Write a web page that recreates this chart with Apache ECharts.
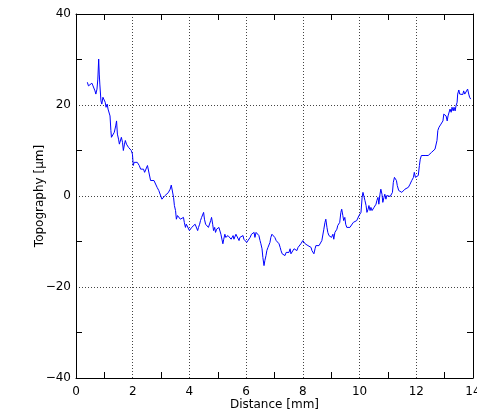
<!DOCTYPE html>
<html>
<head>
<meta charset="utf-8">
<script src="https://cdn.jsdelivr.net/npm/echarts@6/dist/echarts.min.js"></script>
<style>
    html, body { margin: 0; padding: 0; background: #fff; }
    #chart { width: 477px; height: 416px; }
</style>
</head>
<body>
<div id="chart"></div>
<script>
/* surface profile: topography vs distance */

var distance = [
    0.40, 0.44, 0.48, 0.51, 0.56, 0.60, 0.63, 0.67, 0.70, 0.74, 0.77, 0.80, 0.82, 0.84, 0.88, 0.91, 0.95, 0.98,
    1.03, 1.06, 1.10, 1.13, 1.17, 1.20, 1.23, 1.25, 1.28, 1.32, 1.35, 1.40, 1.43, 1.46, 1.50, 1.53, 1.57, 1.60,
    1.64, 1.67, 1.71, 1.74, 1.78, 1.81, 1.85, 1.88, 1.92, 1.95, 1.99, 2.02, 2.05, 2.08, 2.12, 2.16, 2.20, 2.23,
    2.28, 2.31, 2.35, 2.38, 2.42, 2.45, 2.49, 2.52, 2.56, 2.59, 2.63, 2.69, 2.75, 2.81, 2.86, 2.92,
    3.03, 3.08, 3.14, 3.20, 3.25, 3.28, 3.32, 3.36, 3.40, 3.44, 3.47, 3.51, 3.54, 3.58, 3.61, 3.65, 3.68, 3.72,
    3.75, 3.79, 3.82, 3.86, 3.89, 3.93, 3.96, 4.00, 4.03, 4.08, 4.14, 4.20, 4.25, 4.29, 4.32, 4.36, 4.39, 4.43,
    4.46, 4.50, 4.53, 4.57, 4.60, 4.64, 4.67, 4.71, 4.75, 4.78, 4.82, 4.85, 4.89, 4.92, 4.96, 4.99, 5.04, 5.07,
    5.11, 5.14, 5.18, 5.21, 5.25, 5.28, 5.32, 5.36, 5.40, 5.43, 5.47, 5.50, 5.54, 5.57, 5.61, 5.64, 5.68, 5.71,
    5.75, 5.78, 5.82, 5.85, 5.89, 5.92,
    5.96, 6.02, 6.08, 6.14, 6.19, 6.24, 6.28, 6.31, 6.35, 6.38, 6.42, 6.45, 6.49, 6.52, 6.56, 6.59, 6.63, 6.66,
    6.70, 6.73, 6.77, 6.80, 6.84, 6.87, 6.91, 6.94, 6.98, 7.01, 7.06, 7.09, 7.13, 7.16, 7.20, 7.23, 7.27, 7.30,
    7.34, 7.37, 7.41, 7.44, 7.48, 7.51, 7.55, 7.58, 7.62, 7.65, 7.69, 7.72, 7.76, 7.79, 7.83, 7.86, 7.90, 7.93,
    7.97, 8.00, 8.04, 8.08, 8.11, 8.15, 8.18, 8.22, 8.25, 8.29, 8.32, 8.36, 8.39, 8.43, 8.46, 8.50, 8.53, 8.57,
    8.60, 8.64, 8.67, 8.71, 8.74, 8.78, 8.81, 8.85, 8.88, 8.92,
    8.95, 9.01, 9.06, 9.09, 9.13, 9.16, 9.20, 9.23, 9.27, 9.30, 9.34, 9.37, 9.41, 9.44, 9.48, 9.51, 9.55, 9.61,
    9.66, 9.72, 9.78, 9.84, 9.90, 9.94, 9.98, 10.01, 10.05, 10.09, 10.12, 10.16, 10.19, 10.23, 10.26, 10.30,
    10.33, 10.37, 10.40, 10.44, 10.47, 10.51, 10.54, 10.58, 10.61, 10.65, 10.68, 10.72, 10.75, 10.79, 10.82,
    10.86, 10.89, 10.93, 10.96, 11.02, 11.08, 11.12, 11.16, 11.19, 11.23, 11.26, 11.30, 11.33, 11.38, 11.43,
    11.49, 11.55, 11.60, 11.66, 11.72,
    11.78, 11.84, 11.90, 11.93, 11.97, 12.00, 12.04, 12.07, 12.11, 12.14, 12.18, 12.21, 12.25, 12.31, 12.36,
    12.42, 12.48, 12.54, 12.60, 12.66, 12.69, 12.73, 12.76, 12.80, 12.83, 12.87, 12.90, 12.94, 12.97, 13.01,
    13.05, 13.09, 13.12, 13.16, 13.19, 13.23, 13.26, 13.30, 13.33, 13.37, 13.40, 13.44, 13.46, 13.50, 13.53,
    13.57, 13.60, 13.64, 13.67, 13.71, 13.74, 13.78, 13.81, 13.85, 13.88, 13.92
];

var topography = [
    25.0, 24.2, 24.5, 23.9, 24.8, 24.2, 24.6, 23.1, 22.4, 23.5, 25.7, 30.1, 26.8, 24.6, 20.9, 20.2, 21.7, 22.0,
    20.6, 19.5, 20.2, 19.1, 19.5, 17.6, 14.4, 12.9, 13.3, 12.9, 14.0, 15.4, 16.5, 13.6, 12.5, 11.4, 11.1, 12.9,
    11.8, 10.0, 11.4, 12.2, 11.4, 11.8, 10.7, 11.1, 10.7, 10.0, 9.2, 6.7, 7.4, 7.0, 7.6, 7.4, 7.0, 6.7,
    5.9, 6.3, 5.6, 5.9, 5.2, 5.6, 5.2, 6.7, 7.0, 6.3, 3.4, 3.0, 3.4, 3.0, 1.9, 1.2,
    -0.7, -0.3, 0.1, 0.4, 0.7, 0.8, 1.5, 2.4, 2.6, -0.3, -2.1, -3.2, -5.1, -4.3, -4.7, -4.0, -5.1, -4.7,
    -5.4, -4.7, -5.8, -6.9, -6.2, -5.8, -6.5, -7.6, -7.3, -6.9, -6.5, -6.2, -6.5, -7.6, -6.9, -6.2, -5.4, -4.7,
    -4.3, -3.6, -5.1, -6.2, -6.5, -5.8, -6.9, -6.5, -5.4, -4.7, -6.2, -7.6, -6.9, -8.0, -7.3, -7.6, -6.9, -7.3,
    -8.4, -8.7, -10.5, -9.5, -8.4, -9.1, -9.5, -8.7, -8.4, -8.7, -9.5, -9.1, -8.7, -9.5, -9.1, -8.4, -8.0, -8.7,
    -9.8, -9.1, -8.7, -9.1, -8.7, -9.5,
    -9.5, -10.2, -9.8, -9.1, -8.4, -8.7, -8.0, -9.1, -8.0, -7.6, -7.6, -8.7, -9.8, -10.5, -11.6, -13.5, -15.3, -14.2,
    -13.1, -12.0, -11.3, -10.9, -10.2, -9.1, -8.4, -8.0, -8.7, -9.1, -9.8, -9.5, -9.8, -10.5, -11.3, -12.0, -12.7, -12.4,
    -12.7, -13.1, -12.4, -12.7, -12.0, -12.4, -11.6, -12.7, -13.1, -12.4, -11.6, -12.0, -11.6, -12.0, -11.3, -10.9, -11.3, -10.5,
    -10.2, -9.8, -10.2, -10.5, -10.9, -10.5, -10.9, -11.3, -10.5, -11.3, -12.0, -12.4, -12.7, -11.6, -10.9, -11.3, -10.5, -10.9,
    -11.3, -10.5, -9.8, -9.5, -7.3, -5.8, -5.1, -6.9, -8.0, -8.7,
    -8.7, -9.1, -8.4, -9.5, -8.0, -7.6, -7.3, -6.5, -6.9, -5.8, -3.6, -2.9, -4.3, -5.4, -4.7, -6.2, -6.9, -6.9,
    -6.9, -6.5, -5.8, -5.4, -5.4, -5.1, -4.3, -4.0, -3.6, -0.3, 0.8, 0.4, -1.0, -2.1, -3.6, -2.9,
    -2.1, -3.2, -2.5, -3.2, -2.9, -2.5, -2.1, -1.8, -1.0, -0.3, -1.8, 0.4, 1.5, 0.4, -1.4,
    -0.3, 0.4, -0.7, 0.1, 0.1, -0.1, 0.1, 0.8, 3.0, 4.1, 4.5, 3.4, 2.3, 1.2, 0.8,
    0.8, 1.2, 1.5, 1.7, 1.9,
    2.6, 3.4, 4.1, 5.2, 4.1, 3.7, 3.7, 4.5, 6.7, 8.1, 8.9, 8.5, 8.9, 8.9, 8.5,
    8.9, 9.2, 9.6, 10.0, 10.3, 10.7, 12.2, 14.4, 15.1, 14.7, 15.8, 15.5, 16.5, 18.0, 18.4,
    17.6, 16.5, 17.6, 18.0, 19.1, 18.4, 19.5, 18.7, 19.5, 18.7, 19.8, 20.6, 22.4, 23.3, 22.4,
    22.0, 22.8, 22.3, 23.1, 22.4, 22.8, 22.3, 23.5, 22.4, 21.7, 21.3
];

var FONT = 'DejaVu Sans';

function fixMinus(v) {
    return String(v).replace('-', '\u2212');
}

function frameAxis(pos, isY) {
    // axis used only to close the box (top / right)
    return {
        type: 'value',
        position: pos,
        min: isY ? -40 : 0,
        max: isY ? 40 : 14,
        interval: isY ? 20 : 2,
        axisLine: { show: true, onZero: false, lineStyle: { color: '#000', width: 1 } },
        axisTick: { show: false, inside: true },
        minorTick: { show: true, splitNumber: 2, length: 6, lineStyle: { color: '#000' } },
        axisLabel: { show: false },
        splitLine: { show: false }
    };
}

var chart = echarts.init(document.getElementById('chart'));

var option = {
    animation: false,
    backgroundColor: '#fff',
    grid: {
        left: 76,
        right: 4,
        top: 14,
        bottom: 38,
        containLabel: false,
        outerBoundsMode: 'none'
    },
    xAxis: [{
        type: 'value',
        position: 'bottom',
        min: 0,
        max: 14,
        interval: 2,
        name: 'Distance [mm]',
        nameLocation: 'middle',
        nameGap: 21,
        nameMoveOverlap: false,
        nameTextStyle: { color: '#000', fontFamily: FONT, fontSize: 12 },
        axisLine: { show: true, onZero: false, lineStyle: { color: '#000', width: 1 } },
        axisTick: { show: false, inside: true },
        minorTick: { show: true, splitNumber: 2, length: 6, lineStyle: { color: '#000' } },
        axisLabel: { color: '#000', fontFamily: FONT, fontSize: 12, margin: 8, hideOverlap: false },
        splitLine: {
            show: true,
            showMinLine: false,
            showMaxLine: false,
            lineStyle: { color: '#444', width: 1, type: [1, 2] }
        }
    }, frameAxis('top', false)],
    yAxis: [{
        type: 'value',
        position: 'left',
        min: -40,
        max: 40,
        interval: 20,
        name: 'Topography [\u03bcm]',
        nameLocation: 'middle',
        nameGap: 30,
        nameMoveOverlap: false,
        nameTextStyle: { color: '#000', fontFamily: FONT, fontSize: 12 },
        axisLine: { show: true, onZero: false, lineStyle: { color: '#000', width: 1 } },
        axisTick: { show: false, inside: true },
        minorTick: { show: true, splitNumber: 2, length: 6, lineStyle: { color: '#000' } },
        axisLabel: { color: '#000', fontFamily: FONT, fontSize: 12, margin: 5, formatter: fixMinus },
        splitLine: {
            show: true,
            showMinLine: false,
            showMaxLine: false,
            lineStyle: { color: '#444', width: 1, type: [1, 2] }
        }
    }, frameAxis('right', true)],
    series: [{
        type: 'line',
        xAxisIndex: 0,
        yAxisIndex: 0,
        showSymbol: false,
        symbol: 'none',
        lineStyle: { color: '#0000ff', width: 1 },
        data: distance.map(function (d, i) {
            return [d, topography[i]];
        })
    }]
};

chart.setOption(option);
</script>
</body>
</html>
